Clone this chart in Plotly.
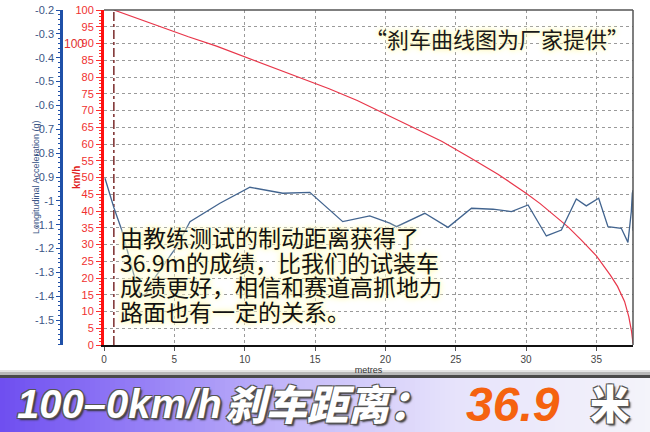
import plotly.graph_objects as go

# ---------------- data ----------------
speed_dist = [0.7, 2, 4, 6, 8, 10, 12, 14, 16, 18, 20, 22, 24, 26, 28, 30, 31, 32, 33,
              34, 35, 36, 36.5, 37, 37.3, 37.5, 37.6]
speed_kmh = [100, 98.0, 95.0, 92.0, 89.2, 86.0, 82.8, 79.8, 76.5, 73.0, 69.0, 65.0, 60.8,
             56.0, 51.0, 45.3, 42.2, 38.7, 35.2, 31.0, 26.6, 20.8, 17.5, 13.0, 8.5, 4.0, 0.5]

accel_dist = [0.07, 0.71, 1.26, 2.13, 2.6, 3.0, 3.69, 5.16, 6.11, 8.24, 10.37, 12.71, 14.63,
              16.97, 18.89, 20.31, 20.79, 22.80, 24.45, 26.12, 27.65, 28.96, 30.14, 31.44,
              32.51, 33.57, 34.28, 35.16, 35.82, 36.77, 37.24, 37.48, 37.55, 37.6, 37.6]
accel_g = [-0.905, -1.030, -1.122, -1.311, -1.40, -1.39, -1.315, -1.192, -1.087, -1.010,
           -0.943, -0.968, -0.964, -1.087, -1.063, -1.093, -1.108, -1.052, -1.111, -1.031,
           -1.035, -1.045, -1.017, -1.147, -1.122, -0.992, -1.021, -0.989, -1.108, -1.115,
           -1.174, -1.045, -0.968, -0.955, -1.125]

brake_start = 0.7
x_ticks = [0, 5, 10, 15, 20, 25, 30, 35]
kmh_ticks = list(range(0, 101, 5))
g_ticks = [-0.2, -0.3, -0.4, -0.5, -0.6, -0.7, -0.8, -0.9, -1, -1.1, -1.2, -1.3, -1.4, -1.5]
g_tick_text = ["-0.2", "-0.3", "-0.4", "-0.5", "-0.6", "-0.7", "-0.8", "-0.9", "-1", "-1.1",
               "-1.2", "-1.3", "-1.4", "-1.5"]

W, H = 650, 432


def px(x):
    return x / W


def py(y):
    return 1 - y / H


fig = go.Figure()

fig.add_trace(go.Scatter(x=[brake_start, brake_start], y=[0, 100], mode="lines",
                         line=dict(color="#7a2a2a", width=1.5, dash="dashdot"),
                         hoverinfo="skip", showlegend=False))
fig.add_trace(go.Scatter(x=speed_dist, y=speed_kmh, mode="lines",
                         line=dict(color="#e8364a", width=1.2), showlegend=False))
fig.add_trace(go.Scatter(x=accel_dist, y=accel_g, mode="lines", yaxis="y2",
                         line=dict(color="#42648f", width=1.3), showlegend=False))

fig.update_layout(
    width=W, height=H,
    margin=dict(l=0, r=0, t=0, b=0),
    paper_bgcolor="white", plot_bgcolor="white",
    xaxis=dict(domain=[px(104), px(633)], range=[0, 37.6], tickvals=x_ticks,
               showgrid=True, gridcolor="#9a9a9a", griddash="dot", gridwidth=1,
               zeroline=False, showline=True, linecolor="#111", linewidth=2,
               ticks="outside", ticklen=4, tickcolor="#555",
               tickfont=dict(family="Liberation Sans, Arial", size=10, color="#444"),
               title=dict(text="metres", font=dict(family="Liberation Sans, Arial", size=9, color="#333"),
                          standoff=2),
               automargin=False, fixedrange=True),
    yaxis=dict(domain=[py(345), py(10)], range=[0, 100], tickvals=kmh_ticks,
               showgrid=True, gridcolor="#9a9a9a", griddash="dot", gridwidth=1,
               zeroline=False, showline=True, linecolor="#ff1010", linewidth=3,
               ticks="outside", ticklen=5, tickcolor="#ff3030",
               minor=dict(ticks="outside", ticklen=2, tickcolor="#ff3030", dtick=1, showgrid=False),
               tickfont=dict(family="Liberation Sans, Arial", size=11, color="#f03030"),
               automargin=False, fixedrange=True),
    yaxis2=dict(overlaying="y", anchor="free", position=px(61), side="left",
                range=[-1.604, -0.2], tickvals=g_ticks, ticktext=g_tick_text,
                showgrid=False, zeroline=False, showline=True, linecolor="#1f50a8", linewidth=2.5,
                ticks="outside", ticklen=4, tickcolor="#1f50a8",
                minor=dict(ticks="outside", ticklen=2, tickcolor="#1f50a8", dtick=0.02),
                tickfont=dict(family="Liberation Sans, Arial", size=11, color="#3a5585"),
                automargin=False, fixedrange=True),
)

shapes = []
# plot frame (top and right border)
shapes.append(dict(type="line", xref="paper", yref="paper", x0=px(104), x1=px(633), y0=py(10), y1=py(10),
                   line=dict(color="#555", width=1.5)))
shapes.append(dict(type="line", xref="paper", yref="paper", x0=px(633), x1=px(633), y0=py(10), y1=py(345),
                   line=dict(color="#555", width=1.5)))

# banner gradient
stops = [(0, (110, 78, 240)), (150, (152, 130, 246)), (300, (198, 188, 249)),
         (450, (230, 226, 251)), (650, (244, 244, 250))]


def col_at(x):
    for (x0, c0), (x1, c1) in zip(stops[:-1], stops[1:]):
        if x0 <= x <= x1:
            t = (x - x0) / (x1 - x0)
            return "rgb(%d,%d,%d)" % tuple(round(a + (b - a) * t) for a, b in zip(c0, c1))
    return "rgb(%d,%d,%d)" % stops[-1][1]


step = 5
for x0 in range(0, W, step):
    shapes.append(dict(type="rect", xref="paper", yref="paper", x0=px(x0), x1=px(x0 + step + 0.5),
                       y0=0, y1=py(378), line=dict(width=0), fillcolor=col_at(x0 + step / 2),
                       layer="below"))
# shadow band above banner
shapes.append(dict(type="rect", xref="paper", yref="paper", x0=0, x1=1, y0=py(378), y1=py(375),
                   line=dict(width=0), fillcolor="#4a4a4a"))
shapes.append(dict(type="rect", xref="paper", yref="paper", x0=0, x1=1, y0=py(375), y1=py(372),
                   line=dict(width=0), fillcolor="#b8b8b8"))
shapes.append(dict(type="rect", xref="paper", yref="paper", x0=0, x1=1, y0=py(372), y1=py(370),
                   line=dict(width=0), fillcolor="#e4e4e4"))
fig.update_layout(shapes=shapes)

glow = "0 0 2px #fffbc8, 0 0 4px #fffbc8, 0 0 6px #fff8c0, 0 0 8px #fffad0"
outline = ("-1px -1px 0 #555, 1px -1px 0 #555, -1px 1px 0 #555, 1px 1px 0 #555, "
           "2px 2px 2px #333")


def note(text, x, y, font, xanchor="center", textangle=0):
    return dict(text=text, xref="paper", yref="paper", x=px(x), y=py(y),
                xanchor=xanchor, yanchor="middle", showarrow=False,
                textangle=textangle, font=font)


ann = []
ann.append(note("Longitudinal Acceleration (g)", 36, 177,
                dict(family="Liberation Sans, Arial", size=9, color="#3a5585"), textangle=-90))
ann.append(note("km/h", 77, 178,
                dict(family="Liberation Sans, Arial", size=10, color="#e02020", weight="bold"),
                textangle=-90))
ann.append(note("100", 74, 44, dict(family="Liberation Sans, Arial", size=12, color="#e03030")))
ann.append(note("“刹车曲线图为厂家提供”", 497, 38,
                dict(family="Noto Sans CJK SC", size=22, color="#1a1a1a", shadow=glow)))

lines = ["由教练测试的制动距离获得了", "36.9m的成绩，比我们的试装车",
         "成绩更好，相信和赛道高抓地力", "路面也有一定的关系。"]
for i, t in enumerate(lines):
    ann.append(note(t, 118, 237 + 24.5 * i,
                    dict(family="Noto Sans CJK SC", size=23, color="#111", shadow=glow),
                    xanchor="left"))

ann.append(note("100–0km/h", 15, 404,
                dict(family="Liberation Sans, Arial", size=40, color="white", weight="bold",
                     style="italic", shadow=outline), xanchor="left"))
ann.append(note("刹车距离：", 223, 402,
                dict(family="Noto Sans CJK SC", size=41, color="white", weight=900,
                     style="italic", shadow=outline), xanchor="left"))
ann.append(note("36.9", 464, 404,
                dict(family="Liberation Sans, Arial", size=48, color="#f5620f", weight="bold",
                     style="italic"), xanchor="left"))
ann.append(note("米", 588, 402,
                dict(family="Noto Sans CJK SC", size=40, color="white", weight=900,
                     shadow=outline), xanchor="left"))
fig.update_layout(annotations=ann)

fig.write_html("out.html", config={"displayModeBar": False},
               post_script="document.body.style.margin='0';")
